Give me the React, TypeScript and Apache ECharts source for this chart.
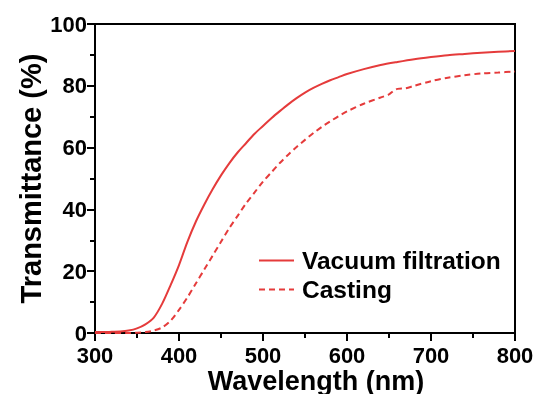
import React, { useEffect, useRef } from "react";
import * as echarts from "echarts";

const vacuumWavelengths = [300, 310, 320, 330, 340, 350, 360, 370, 380, 390, 400, 410, 420, 430, 440, 450, 460, 470, 480, 490, 500, 510, 520, 530, 540, 550, 560, 570, 580, 590, 600, 620, 640, 660, 680, 700, 720, 740, 760, 780, 800];
const vacuumValues = [0.3, 0.3, 0.4, 0.5, 0.8, 1.5, 2.8, 5, 9.5, 15.5, 22, 29.5, 36, 41.5, 46.5, 51, 55, 58.5, 61.5, 64.5, 67, 69.5, 71.8, 74, 76, 77.8, 79.3, 80.6, 81.8, 82.8, 83.8, 85.4, 86.7, 87.7, 88.6, 89.3, 89.9, 90.3, 90.7, 91.0, 91.3];

const castingWavelengths = [300, 320, 340, 350, 360, 370, 380, 390, 400, 410, 420, 430, 440, 450, 460, 470, 480, 490, 500, 510, 520, 530, 540, 550, 560, 570, 580, 590, 600, 620, 640, 650, 655, 660, 670, 680, 700, 720, 740, 760, 780, 800];
const castingValues = [0, 0, 0, 0.1, 0.3, 0.8, 1.8, 4, 7.5, 11.5, 16, 20.5, 25, 29.5, 34, 38, 42, 45.5, 49, 52, 55, 57.7, 60.2, 62.5, 64.7, 66.7, 68.5, 70.2, 71.7, 74.2, 76.2, 77.2, 78.3, 79, 79.2, 80, 81.5, 82.6, 83.4, 84, 84.3, 84.6];

const seriesNames = ["Vacuum filtration", "Casting"];
const xTitle = "Wavelength (nm)";
const yTitle = "Transmittance (%)";

const FONT = "Liberation Sans, Arial, sans-serif";
const RED = "#e53b3b";

export default function App() {
  const ref = useRef<HTMLDivElement>(null);
  useEffect(() => {
    if (!ref.current) return;
    const chart = echarts.init(ref.current, undefined, { renderer: "svg" });
    const zip = (xs: number[], ys: number[]) => xs.map((x, i) => [x, ys[i]]);
    chart.setOption({
      animation: false,
      grid: {
        left: 95,
        right: 22,
        top: 24,
        bottom: 61,
        outerBoundsMode: "none",
        containLabel: false,
        show: true,
        borderColor: "#000",
        borderWidth: 2,
        backgroundColor: "transparent",
      },
      legend: {
        orient: "vertical",
        left: 258,
        top: 248,
        padding: 0,
        itemGap: 4,
        itemWidth: 35,
        itemHeight: 24,
        data: seriesNames,
        itemStyle: { opacity: 0, borderWidth: 0 },
        textStyle: {
          fontFamily: FONT,
          fontWeight: "bold",
          fontSize: 24.5,
          color: "#000",
          padding: [0, 0, 0, 3],
        },
      },
      xAxis: {
        type: "value",
        min: 300,
        max: 800,
        interval: 100,
        name: xTitle,
        nameLocation: "middle",
        nameGap: 35,
        nameMoveOverlap: false,
        nameTextStyle: {
          fontFamily: FONT,
          fontWeight: "bold",
          fontSize: 27,
          lineHeight: 25,
          color: "#000",
          padding: [0, 0, 0, 22],
        },
        axisLine: { lineStyle: { color: "#000", width: 2 } },
        axisTick: { show: true, length: 8, lineStyle: { color: "#000", width: 2 } },
        minorTick: { show: true, splitNumber: 2, length: 5, lineStyle: { color: "#000", width: 2 } },
        splitLine: { show: false },
        axisLabel: {
          fontFamily: FONT,
          fontWeight: "bold",
          fontSize: 22,
          lineHeight: 20,
          color: "#000",
          margin: 12,
        },
      },
      yAxis: {
        type: "value",
        min: 0,
        max: 100,
        interval: 20,
        name: yTitle,
        nameLocation: "middle",
        nameGap: 50,
        nameMoveOverlap: false,
        nameTextStyle: {
          fontFamily: FONT,
          fontWeight: "bold",
          fontSize: 29,
          color: "#000",
        },
        axisLine: { lineStyle: { color: "#000", width: 2 } },
        axisTick: { show: true, length: 8, lineStyle: { color: "#000", width: 2 } },
        minorTick: { show: true, splitNumber: 2, length: 5, lineStyle: { color: "#000", width: 2 } },
        splitLine: { show: false },
        axisLabel: {
          fontFamily: FONT,
          fontWeight: "bold",
          fontSize: 22,
          lineHeight: 18,
          color: "#000",
          margin: 8,
        },
      },
      series: [
        {
          name: seriesNames[0],
          type: "line",
          data: zip(vacuumWavelengths, vacuumValues),
          showSymbol: false,
          symbol: "none",
          smooth: 0.3,
          color: RED,
          lineStyle: { color: RED, width: 2, type: "solid" },
        },
        {
          name: seriesNames[1],
          type: "line",
          data: zip(castingWavelengths, castingValues),
          showSymbol: false,
          symbol: "none",
          smooth: 0.3,
          color: RED,
          lineStyle: { color: RED, width: 2, type: [6, 4] },
        },
      ],
    });
    return () => chart.dispose();
  }, []);
  return (
    <div
      ref={ref}
      style={{ position: "fixed", left: 0, top: 0, width: 537, height: 394 }}
    />
  );
}
